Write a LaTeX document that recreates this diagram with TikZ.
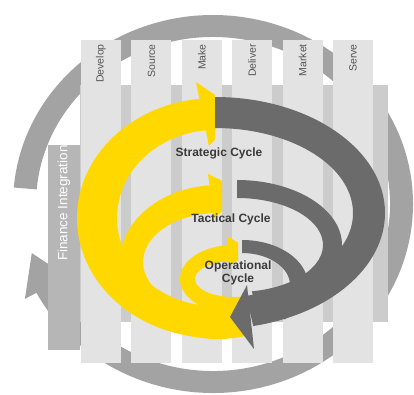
\documentclass[tikz,border=0pt]{standalone}
\usepackage{fontspec}
\setmainfont{Liberation Sans}
\usetikzlibrary{calc}
\definecolor{ringgray}{HTML}{A3A3A3}
\definecolor{bandgray}{HTML}{CCCCCC}
\definecolor{colgray}{HTML}{E3E3E3}
\definecolor{fingray}{HTML}{B6B6B6}
\definecolor{yel}{HTML}{FFD800}
\definecolor{dgray}{HTML}{6B6B6B}
\definecolor{txtgray}{HTML}{3A3A3A}
\definecolor{lblgray}{HTML}{555555}
\begin{document}
\begin{tikzpicture}[x=1pt,y=-1pt,
  collabel/.style={rotate=90,anchor=east,inner sep=0pt,text=lblgray,font=\fontsize{10.5}{11}\selectfont},
  cyclab/.style={inner sep=0pt,text=txtgray,align=center,font=\fontsize{12}{12.5}\selectfont\bfseries},
  finlab/.style={rotate=90,inner sep=0pt,text=white,font=\fontsize{13.5}{14}\selectfont},
  yfill/.style={fill=yel},
  gfill/.style={fill=dgray}]
\useasboundingbox (0,0) rectangle (414,394);
\fill[white] (0,0) rectangle (414,394);

% outer circular arrow (behind everything)
\fill[ringgray] ($(213,204)+(185:200 and 189)$)
  arc[start angle=185,end angle=513,x radius=200,y radius=189]
  -- ($(213,204)+(513:177 and 167)$)
  arc[start angle=513,end angle=185,x radius=177,y radius=167] -- cycle;
\fill[ringgray] ($(213,204)+(512:213 and 202)$) -- ($(213,204)+(524:188.5 and 178)$)
  -- ($(213,204)+(512:165 and 155)$) -- cycle;

% background band
\fill[bandgray] (80,85) rectangle (388,322);
% columns
\foreach \i in {0,...,5}{
  \fill[colgray] ({81+50.4*\i},40) rectangle ++(40,323);
}
% finance bar
\fill[fingray] (48,145) rectangle (80,350);

% column labels
\node[collabel] (develop) at (101,44) {Develop};
\node[collabel] (source)  at (151.4,44) {Source};
\node[collabel] (make)    at (201.8,44) {Make};
\node[collabel] (deliver) at (252.2,44) {Deliver};
\node[collabel] (market)  at (302.6,44) {Market};
\node[collabel] (serve)   at (353,44) {Serve};
\node[finlab] (finance) at (64,203) {Finance Integration};

% yellow bands
\begin{scope}
\clip (0,0) -- (409.6,0) -- (230,317) -- (289,394) -- (0,394) -- cycle;
\fill[yfill] ($(215,218)+(270:138 and 120)$)
  arc[start angle=270,end angle=60,x radius=138,y radius=120]
  -- ($(215,218)+(60:98 and 88)$)
  arc[start angle=60,end angle=270,x radius=98,y radius=88] -- cycle;
\fill[yfill] ($(218,262)+(270:98 and 77)$)
  arc[start angle=270,end angle=60,x radius=98,y radius=77]
  -- ($(218,262)+(60:75 and 49)$)
  arc[start angle=60,end angle=270,x radius=75,y radius=49] -- cycle;
\fill[yfill] ($(233,279)+(270:53 and 34)$)
  arc[start angle=270,end angle=60,x radius=53,y radius=34]
  -- ($(233,279)+(60:38 and 18)$)
  arc[start angle=60,end angle=270,x radius=38,y radius=18] -- cycle;
\end{scope}
% yellow arrow heads
\begin{scope}
\clip (0,0) rectangle (215,394);
\fill[yfill] (196,82) -- (240,112) -- (209,146) -- cycle;
\end{scope}
\begin{scope}
\clip (0,0) rectangle (222,394);
\fill[yfill] (208,174) -- (245,192) -- (214,218) -- cycle;
\end{scope}
\begin{scope}
\clip (0,0) rectangle (238,394);
\fill[yfill] (227,236) -- (252,251) -- (229,266) -- cycle;
\end{scope}

% dark gray bands
\fill[gfill] ($(215,213)+(-90:170 and 116)$)
  arc[start angle=-90,end angle=77,x radius=170,y radius=116]
  -- ($(215,213)+(77:138 and 85)$)
  arc[start angle=77,end angle=-90,x radius=138,y radius=85] -- cycle;
\fill[gfill] ($(237,245)+(-90:105 and 65)$)
  arc[start angle=-90,end angle=80,x radius=105,y radius=65]
  -- ($(237,245)+(80:86 and 47)$)
  arc[start angle=80,end angle=-90,x radius=86,y radius=47] -- cycle;
\fill[gfill] ($(242,285)+(-90:66 and 45)$)
  arc[start angle=-90,end angle=50,x radius=66,y radius=45]
  -- ($(242,285)+(50:48 and 32)$)
  arc[start angle=50,end angle=-90,x radius=48,y radius=32] -- cycle;
\fill[gfill] (247,285) -- (230,317) -- (254,349) -- cycle;

% cycle labels
\node[cyclab] (strategic) at (219,153) {Strategic Cycle};
\node[cyclab] (tactical) at (231,219) {Tactical Cycle};
\node[cyclab] (operational) at (238,273) {Operational\\Cycle};
\end{tikzpicture}
\end{document}
